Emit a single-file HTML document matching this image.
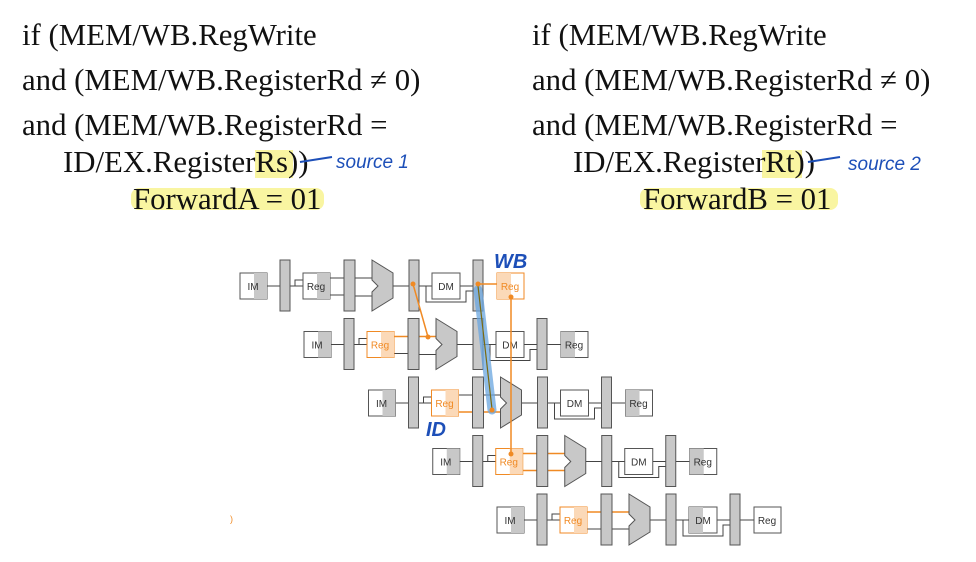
<!DOCTYPE html>
<html><head><meta charset="utf-8"><style>
html,body{margin:0;padding:0;background:#fff;}
svg{display:block;}
.t{font-family:"Liberation Serif",serif;font-size:30.8px;fill:#111;}
.s{font-family:"Liberation Sans",sans-serif;font-size:10px;fill:#333;text-anchor:middle;}
.o{fill:#f08a24;}
.hw{font-family:"Liberation Sans",sans-serif;font-style:italic;fill:#1d4fb8;}
.bar{fill:#c8c8c8;stroke:#555;stroke-width:1;}
.ln{stroke:#444;stroke-width:1;fill:none;}
.ol{stroke:#f08a24;stroke-width:1.5;fill:none;}
</style></head><body>
<svg width="976" height="562" viewBox="0 0 976 562" xmlns="http://www.w3.org/2000/svg">
<!-- highlights -->
<rect x="255" y="150" width="38" height="28" fill="#f8f38a" opacity="0.8"/>
<rect x="131" y="188" width="193" height="22" rx="8" fill="#f8f38a" opacity="0.8"/>
<rect x="762" y="150" width="40" height="28" fill="#f8f38a" opacity="0.8"/>
<rect x="640" y="188" width="198" height="22" rx="8" fill="#f8f38a" opacity="0.8"/>
<!-- text -->
<text class="t" x="22" y="45">if (MEM/WB.RegWrite</text>
<text class="t" x="22" y="90">and (MEM/WB.RegisterRd ≠ 0)</text>
<text class="t" x="22" y="135">and (MEM/WB.RegisterRd =</text>
<text class="t" x="63" y="172">ID/EX.RegisterRs))</text>
<text class="t" x="133" y="209">ForwardA = 01</text>
<text class="t" x="532" y="45">if (MEM/WB.RegWrite</text>
<text class="t" x="532" y="90">and (MEM/WB.RegisterRd ≠ 0)</text>
<text class="t" x="532" y="135">and (MEM/WB.RegisterRd =</text>
<text class="t" x="573" y="172">ID/EX.RegisterRt))</text>
<text class="t" x="643" y="209">ForwardB = 01</text>
<!-- handwriting -->
<path d="M300 162 L332 157" stroke="#1d4fb8" stroke-width="2" fill="none"/>
<text class="hw" x="336" y="168" font-size="19">source 1</text>
<path d="M808 162 L840 157" stroke="#1d4fb8" stroke-width="2" fill="none"/>
<text class="hw" x="848" y="170" font-size="19">source 2</text>
<text class="hw" x="494" y="268" font-size="20" font-weight="bold">WB</text>
<text class="hw" x="426" y="436" font-size="20" font-weight="bold">ID</text>

<!-- ROW 1 -->
<g transform="translate(240,260)">
<rect x="0" y="13" width="27" height="26" fill="#fff" stroke="#555"/><rect x="14" y="13" width="13" height="26" fill="#c8c8c8"/><text class="s" x="13" y="30">IM</text>
<path class="ln" d="M27 26H40M50 26H63M55 26V20H63M90 18H104M90 35H104M115 18H132M115 36H132M153 26H169M179 26H192M186 26V42H226V31H233M220 26H233"/>
<rect class="bar" x="40" y="0" width="10" height="51"/>
<rect x="63" y="13" width="27" height="26" fill="#fff" stroke="#555"/><rect x="77" y="13" width="13" height="26" fill="#c8c8c8"/><text class="s" x="76" y="30">Reg</text>
<rect class="bar" x="104" y="0" width="11" height="51"/>
<polygon class="bar" points="132,0 153,13 153,38 132,51 132,32 138,26 132,20"/>
<rect class="bar" x="169" y="0" width="10" height="51"/>
<rect x="192" y="13" width="28" height="26" fill="#fff" stroke="#555"/><text class="s" x="206" y="30">DM</text>
<rect class="bar" x="233" y="0" width="10" height="51"/>
<path class="ol" d="M238 24H257"/>
<rect x="257" y="13" width="27" height="26" fill="#fff" stroke="#f08a24"/><rect x="257" y="13" width="14" height="26" fill="#fbd9b8"/><text class="s o" x="270" y="30">Reg</text>
</g>
<!-- ROW 2 -->
<g transform="translate(304,318.5)">
<rect x="0" y="13" width="27" height="26" fill="#fff" stroke="#555"/><rect x="14" y="13" width="13" height="26" fill="#c8c8c8"/><text class="s" x="13" y="30">IM</text>
<path class="ln" d="M27 26H40M50 26H63M55 26V20H63M90 35H104M115 36H132M153 26H169M179 26H192M186 26V42H226V31H233M220 26H233M243 26H257"/>
<path class="ol" d="M90 18H104M115 18H132"/>
<rect class="bar" x="40" y="0" width="10" height="51"/>
<rect x="63" y="13" width="27" height="26" fill="#fff" stroke="#f08a24"/><rect x="77" y="13" width="13" height="26" fill="#fbd9b8"/><text class="s o" x="76" y="30">Reg</text>
<rect class="bar" x="104" y="0" width="11" height="51"/>
<polygon class="bar" points="132,0 153,13 153,38 132,51 132,32 138,26 132,20"/>
<rect class="bar" x="169" y="0" width="10" height="51"/>
<rect x="192" y="13" width="28" height="26" fill="#fff" stroke="#555"/><text class="s" x="206" y="30">DM</text>
<rect class="bar" x="233" y="0" width="10" height="51"/>
<rect x="257" y="13" width="27" height="26" fill="#fff" stroke="#555"/><rect x="257" y="13" width="14" height="26" fill="#c8c8c8"/><text class="s" x="270" y="30">Reg</text>
</g>
<!-- ROW 3 -->
<g transform="translate(368.5,377)">
<rect x="0" y="13" width="27" height="26" fill="#fff" stroke="#555"/><rect x="14" y="13" width="13" height="26" fill="#c8c8c8"/><text class="s" x="13" y="30">IM</text>
<path class="ln" d="M27 26H40M50 26H63M55 26V20H63M90 18H104M115 18H132M153 26H169M179 26H192M186 26V42H226V31H233M220 26H233M243 26H257"/>
<path class="ol" d="M90 35H104M115 35H132"/>
<rect class="bar" x="40" y="0" width="10" height="51"/>
<rect x="63" y="13" width="27" height="26" fill="#fff" stroke="#f08a24"/><rect x="77" y="13" width="13" height="26" fill="#fbd9b8"/><text class="s o" x="76" y="30">Reg</text>
<rect class="bar" x="104" y="0" width="11" height="51"/>
<polygon class="bar" points="132,0 153,13 153,38 132,51 132,32 138,26 132,20"/>
<rect class="bar" x="169" y="0" width="10" height="51"/>
<rect x="192" y="13" width="28" height="26" fill="#fff" stroke="#555"/><text class="s" x="206" y="30">DM</text>
<rect class="bar" x="233" y="0" width="10" height="51"/>
<rect x="257" y="13" width="27" height="26" fill="#fff" stroke="#555"/><rect x="257" y="13" width="14" height="26" fill="#c8c8c8"/><text class="s" x="270" y="30">Reg</text>
</g>
<!-- ROW 4 -->
<g transform="translate(432.75,435.5)">
<rect x="0" y="13" width="27" height="26" fill="#fff" stroke="#555"/><rect x="14" y="13" width="13" height="26" fill="#c8c8c8"/><text class="s" x="13" y="30">IM</text>
<path class="ln" d="M27 26H40M50 26H63M55 26V20H63M153 26H169M179 26H192M186 26V42H226V31H233M220 26H233M243 26H257"/>
<path class="ol" d="M90 18H104M115 18H132M90 35H104M115 35H132"/>
<rect class="bar" x="40" y="0" width="10" height="51"/>
<rect x="63" y="13" width="27" height="26" fill="#fff" stroke="#f08a24"/><rect x="77" y="13" width="13" height="26" fill="#fbd9b8"/><text class="s o" x="76" y="30">Reg</text>
<rect class="bar" x="104" y="0" width="11" height="51"/>
<polygon class="bar" points="132,0 153,13 153,38 132,51 132,32 138,26 132,20"/>
<rect class="bar" x="169" y="0" width="10" height="51"/>
<rect x="192" y="13" width="28" height="26" fill="#fff" stroke="#555"/><text class="s" x="206" y="30">DM</text>
<rect class="bar" x="233" y="0" width="10" height="51"/>
<rect x="257" y="13" width="27" height="26" fill="#fff" stroke="#555"/><rect x="257" y="13" width="14" height="26" fill="#c8c8c8"/><text class="s" x="270" y="30">Reg</text>
</g>
<!-- ROW 5 -->
<g transform="translate(497,494)">
<rect x="0" y="13" width="27" height="26" fill="#fff" stroke="#555"/><rect x="14" y="13" width="13" height="26" fill="#c8c8c8"/><text class="s" x="13" y="30">IM</text>
<path class="ln" d="M27 26H40M50 26H63M55 26V20H63M90 35H104M115 35H132M153 26H169M179 26H192M186 26V42H226V31H233M220 26H233M243 26H257"/>
<path class="ol" d="M90 18H104M115 18H132"/>
<rect class="bar" x="40" y="0" width="10" height="51"/>
<rect x="63" y="13" width="27" height="26" fill="#fff" stroke="#f08a24"/><rect x="77" y="13" width="13" height="26" fill="#fbd9b8"/><text class="s o" x="76" y="30">Reg</text>
<rect class="bar" x="104" y="0" width="11" height="51"/>
<polygon class="bar" points="132,0 153,13 153,38 132,51 132,32 138,26 132,20"/>
<rect class="bar" x="169" y="0" width="10" height="51"/>
<rect x="192" y="13" width="28" height="26" fill="#fff" stroke="#555"/><rect x="192" y="13" width="14" height="26" fill="#c8c8c8"/><text class="s" x="206" y="30">DM</text>
<rect class="bar" x="233" y="0" width="10" height="51"/>
<rect x="257" y="13" width="27" height="26" fill="#fff" stroke="#555"/><text class="s" x="270" y="30">Reg</text>
</g>
<!-- forwarding -->
<path d="M478 290 L492 410" stroke="#6aa6e0" stroke-width="9" stroke-linecap="round" opacity="0.75"/>
<path d="M478 286 L492 409" stroke="#7a6a10" stroke-width="1.2"/>
<path class="ol" d="M413 284 L428 337"/>
<path class="ol" d="M511 297 V454"/>
<circle cx="413" cy="284" r="2.5" fill="#f08a24"/>
<circle cx="428" cy="337" r="2.5" fill="#f08a24"/>
<circle cx="478" cy="284" r="2.5" fill="#f08a24"/>
<circle cx="511" cy="297" r="2.5" fill="#f08a24"/>
<circle cx="511" cy="454" r="2.5" fill="#f08a24"/>
<circle cx="492" cy="410" r="2.5" fill="#f08a24"/>
<text x="230" y="522" font-size="9" fill="#f08a24" font-family="Liberation Sans,sans-serif">)</text>
</svg>
</body></html>
